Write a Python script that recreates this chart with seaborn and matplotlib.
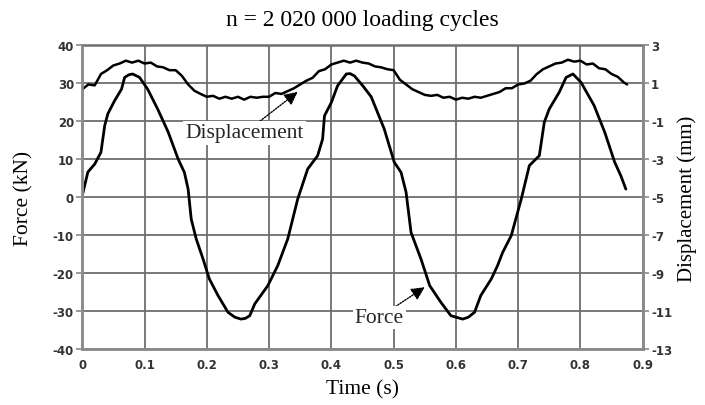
import matplotlib
matplotlib.use("Agg")
import matplotlib.pyplot as plt
import seaborn as sns
import pandas as pd

# ---- data ----
force_t = [0, 0.009, 0.02, 0.03, 0.036, 0.041, 0.052, 0.063, 0.068, 0.075, 0.081, 0.092,
           0.105, 0.121, 0.138, 0.154, 0.164, 0.17, 0.175, 0.183, 0.194, 0.204, 0.218,
           0.234, 0.245, 0.255, 0.262, 0.269, 0.277, 0.298, 0.314, 0.33, 0.346, 0.362,
           0.378, 0.386, 0.389, 0.4, 0.41, 0.424, 0.43, 0.437, 0.45, 0.464, 0.485, 0.501,
           0.512, 0.52, 0.528, 0.544, 0.558, 0.576, 0.592, 0.611, 0.62, 0.63, 0.64, 0.657,
           0.667, 0.675, 0.689, 0.705, 0.718, 0.734, 0.742, 0.75, 0.766, 0.777, 0.788,
           0.801, 0.822, 0.839, 0.855, 0.865, 0.873]
force_kn = [0.5, 6.7, 8.8, 11.9, 18.9, 22, 25.5, 28.5, 31.6, 32.3, 32.5, 31.6,
            28.5, 23.3, 17.2, 10.1, 6.6, 2.2, -5.7, -10.9, -16.2, -21.4, -25.8,
            -30.2, -31.5, -32, -31.8, -31.1, -28, -23.2, -17.9, -10.9, -0.4, 7.5,
            11, 15.4, 21.5, 25, 29.4, 32.5, 32.6, 32, 29.5, 26.5, 18, 9.3,
            6.6, 1.4, -9.2, -16.2, -23.2, -27.6, -31.1, -32, -31.5, -30.2, -25.8, -21.4,
            -17.9, -14.5, -10, -0.4, 8.4, 11, 19.8, 23.3, 27.7, 31.6, 32.5,
            30.3, 24.2, 17.2, 9.3, 5.7, 2.2]

disp_t = [0, 0.01, 0.02, 0.03, 0.04, 0.05, 0.06, 0.07, 0.08, 0.09, 0.10, 0.11, 0.12,
          0.13, 0.14, 0.15, 0.16, 0.17, 0.18, 0.19, 0.20, 0.21, 0.22, 0.23, 0.24, 0.25,
          0.26, 0.27, 0.28, 0.29, 0.30, 0.31, 0.32, 0.33, 0.34, 0.35, 0.36, 0.37, 0.38,
          0.39, 0.40, 0.41, 0.42, 0.43, 0.44, 0.45, 0.46, 0.47, 0.48, 0.49, 0.50, 0.51,
          0.52, 0.53, 0.54, 0.55, 0.56, 0.57, 0.58, 0.59, 0.60, 0.61, 0.62, 0.63, 0.64,
          0.65, 0.66, 0.67, 0.68, 0.69, 0.70, 0.71, 0.72, 0.73, 0.74, 0.75, 0.76, 0.77,
          0.78, 0.79, 0.80, 0.81, 0.82, 0.83, 0.84, 0.85, 0.86, 0.87, 0.875]
disp_mm = [0.7, 0.95, 0.9, 1.5, 1.7, 1.95, 2.05, 2.2, 2.1, 2.2, 2.05, 2.1, 1.9,
           1.85, 1.7, 1.7, 1.4, 0.95, 0.62, 0.45, 0.3, 0.35, 0.2, 0.3, 0.2, 0.3,
           0.15, 0.3, 0.25, 0.3, 0.3, 0.5, 0.45, 0.6, 0.75, 0.95, 1.15, 1.3, 1.65,
           1.75, 2.0, 2.1, 2.2, 2.1, 2.2, 2.1, 2.05, 1.9, 1.85, 1.75, 1.7, 1.2,
           0.95, 0.7, 0.55, 0.4, 0.35, 0.4, 0.25, 0.3, 0.15, 0.25, 0.2, 0.3, 0.25,
           0.35, 0.45, 0.55, 0.75, 0.75, 0.95, 1.0, 1.15, 1.5, 1.75, 1.9, 2.05, 2.1,
           2.25, 2.15, 2.2, 2.0, 2.05, 1.8, 1.75, 1.5, 1.35, 1.05, 0.95]

x_ticks = [0, 0.1, 0.2, 0.3, 0.4, 0.5, 0.6, 0.7, 0.8, 0.9]
x_ticklabels = ["0", "0.1", "0.2", "0.3", "0.4", "0.5", "0.6", "0.7", "0.8", "0.9"]
force_ticks = [-40, -30, -20, -10, 0, 10, 20, 30, 40]
disp_ticks = [3, 1, -1, -3, -5, -7, -9, -11, -13]

title = "n = 2 020 000 loading cycles"
xlabel = "Time (s)"
ylabel_left = "Force (kN)"
ylabel_right = "Displacement (mm)"

force_df = pd.DataFrame({"t": force_t, "F": force_kn})
disp_df = pd.DataFrame({"t": disp_t, "d": disp_mm})

# ---- style ----
sns.set_style("white")
plt.rcParams["font.family"] = ["DejaVu Sans"]
plt.rcParams["axes.unicode_minus"] = False

fig = plt.figure(figsize=(7.05, 4.06), dpi=100)
ax = fig.add_axes([0.1167, 0.1367, 0.7949, 0.7488])

grid_col = "#6e6e6e"
spine_col = "#8a8a8a"
tick_col = "#333333"
serif = ["Liberation Serif", "DejaVu Serif"]

sns.lineplot(data=force_df, x="t", y="F", ax=ax, color="black", linewidth=2.0,
             sort=False, estimator=None)
ax.set_xlim(0, 0.9)
ax.set_ylim(-40, 40)
ax.set_xticks(x_ticks)
ax.set_xticklabels(x_ticklabels)
ax.set_yticks(force_ticks)
ax.grid(True, color=grid_col, linewidth=1.3)
ax.set_axisbelow(True)

ax2 = ax.twinx()
sns.lineplot(data=disp_df, x="t", y="d", ax=ax2, color="black", linewidth=1.8,
             sort=False, estimator=None)
ax2.set_ylim(-13, 3)
ax2.set_yticks(disp_ticks)
ax2.set_xlim(0, 0.9)
ax2.set_ylabel("")

for a in (ax, ax2):
    for s in a.spines.values():
        s.set_color(spine_col)
        s.set_linewidth(1.8)
    a.tick_params(axis="both", direction="out", length=4, width=1.2, color=spine_col,
                  labelsize=8.5, labelcolor=tick_col, pad=2)
    for lab in a.get_xticklabels() + a.get_yticklabels():
        lab.set_fontweight("bold")
ax.spines["top"].set_color(grid_col)
ax2.spines["top"].set_visible(False)

ax.set_xlabel(xlabel, family=serif, fontsize=15.5, color="black", labelpad=6)
ax.set_ylabel(ylabel_left, family=serif, fontsize=15.5, color="black", labelpad=14)
ax2.set_ylabel(ylabel_right, family=serif, fontsize=15, color="black", labelpad=4)
ax.set_title(title, family=serif, fontsize=17, color="black", pad=15)

arrow = dict(arrowstyle="-|>", linestyle=(0, (1, 1)), color="black", lw=1.0,
             mutation_scale=20, shrinkA=0, shrinkB=0)
ax.annotate("Displacement", xy=(0.346, 27.8), xytext=(0.261, 17.0),
            family=serif, fontsize=15.5, ha="center", va="center", zorder=5,
            bbox=dict(boxstyle="square,pad=0.1", fc="white", ec="none"),
            arrowprops=dict(arrow, patchA=None))
ax.annotate("Force", xy=(0.55, -23.6), xytext=(0.477, -31.5),
            family=serif, fontsize=15.5, ha="center", va="center", zorder=5,
            bbox=dict(boxstyle="square,pad=0.1", fc="white", ec="none"),
            arrowprops=dict(arrow, patchA=None))

fig.savefig("out.png", dpi=100)
